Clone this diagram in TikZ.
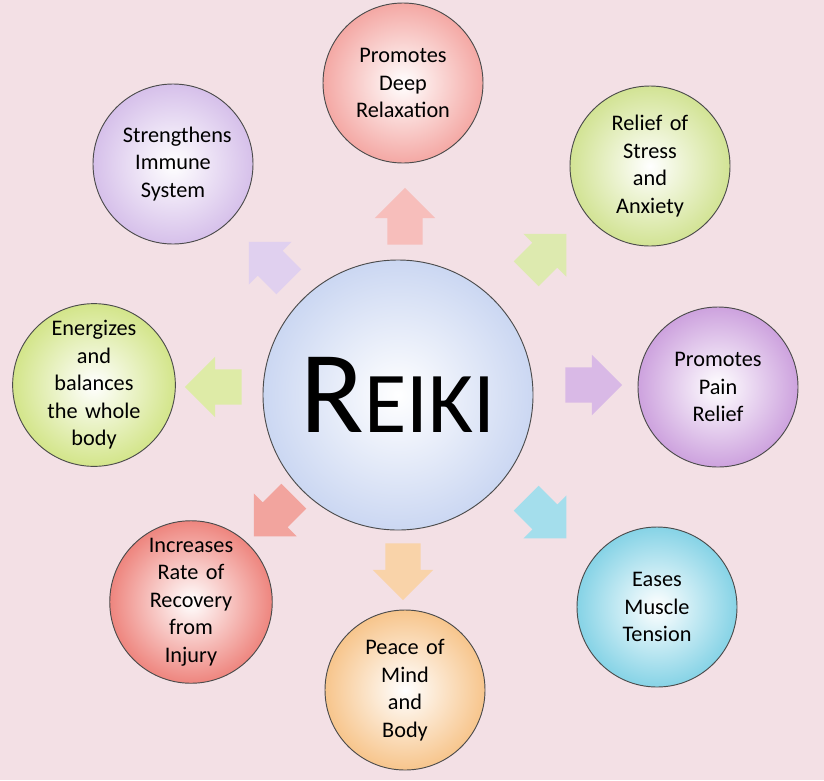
\documentclass[tikz,border=0pt]{standalone}
\usepackage{fontspec}
\setmainfont{Carlito}
\usetikzlibrary{shapes.arrows}

\definecolor{bgpink}{HTML}{F3E0E5}
\definecolor{cred}{HTML}{F4A8A4}
\definecolor{cgreen}{HTML}{D2E394}
\definecolor{cpurple}{HTML}{CDA2DE}
\definecolor{ccyan}{HTML}{86D3E6}
\definecolor{corange}{HTML}{F7C58C}
\definecolor{cdred}{HTML}{EE857E}
\definecolor{clime}{HTML}{D3E58A}
\definecolor{clav}{HTML}{D6C0EA}
\definecolor{ccenter}{HTML}{CBD7F2}

\tikzset{
  benefit/.style={circle, draw=black!70, line width=0.8pt, minimum size=4.8cm,
    inner sep=0pt, inner color=white, outer color=#1, align=center,
    text width=3.0cm, font=\fontsize{19}{23.5}\selectfont},
  flow/.style={single arrow, minimum height=1.7cm, inner ysep=0.52cm,
    inner xsep=0.3cm, single arrow head extend=0.38cm,
    fill=#1!75!white, draw=none}
}

\begin{document}
\begin{tikzpicture}[x=0.03cm,y=-0.03cm]
  \fill[bgpink] (0,0) rectangle (824,780);
  \useasboundingbox (0,0) rectangle (824,780);

  \node[circle, draw=black!70, line width=0.8pt, minimum size=8.1cm,
    inner color=white, outer color=ccenter] (reiki) at (398,395)
    {\fontsize{100}{100}\selectfont R\fontsize{74}{74}\selectfont EIKI};

  \node[benefit=cred] (relax) at (403,83) {Promotes\\Deep\\Relaxation};
  \node[benefit=cgreen] (stress) at (650,166) {Relief of\\Stress\\and\\Anxiety};
  \node[benefit=cpurple] (pain) at (718,387) {Promotes\\Pain\\Relief};
  \node[benefit=ccyan] (muscle) at (657,607) {Eases\\Muscle\\Tension};
  \node[benefit=corange] (peace) at (405,690) {Peace of\\Mind\\and\\Body};
  \node[benefit=cdred] (injury) at (191,602) {Increases\\Rate of\\Recovery\\from\\Injury};
  \node[benefit=clime] (energy) at (94,385) {Energizes\\and\\balances\\the whole\\body};
  \node[benefit=clav] (immune) at (173,164) {Strengthens\\Immune\\System};

  % arrows between the centre and the outer circles
  \node[flow=cred, rotate=90] (a1) at (405,225) {};
  \node[flow=cgreen, rotate=45] (a2) at (540,260) {};
  \node[flow=cpurple, rotate=0] (a3) at (585,385) {};
  \node[flow=ccyan, rotate=-45] (a4) at (540,512) {};
  \node[flow=corange, rotate=-90] (a5) at (403,563) {};
  \node[flow=cdred, rotate=-135] (a6) at (280,510) {};
  \node[flow=clime, rotate=180] (a7) at (222,387) {};
  \node[flow=clav, rotate=135] (a8) at (275,268) {};
\end{tikzpicture}
\end{document}
